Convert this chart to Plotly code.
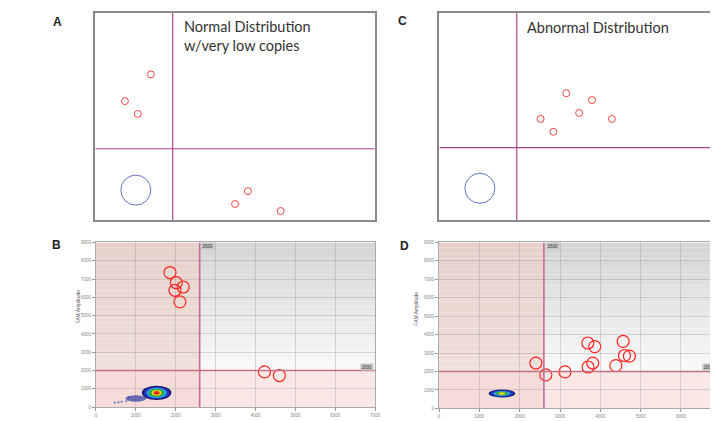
import plotly.graph_objects as go

# page body has an 8px default margin; the figure fills the rest of the 718x421 window
OFF = 8
W, H = 718 - OFF, 421 - OFF

# ---------------- data ----------------
# Schematic panels (arbitrary 0-100 units)
a_pos_x = [19.9, 10.6, 15.2, 54.6, 50.0, 66.3]
a_pos_y = [70.3, 57.4, 51.2, 13.9, 7.7, 4.3]
a_neg_x = [14.5]
a_neg_y = [14.4]
a_thr_x, a_thr_y = 27.7, 34.4
a_text = ["Normal Distribution", "w/very low copies"]

c_pos_x = [45.4, 54.6, 50.0, 36.2, 61.7, 40.8]
c_pos_y = [61.2, 57.9, 51.7, 48.8, 48.8, 42.6]
c_neg_x = [14.5]
c_neg_y = [15.3]
c_thr_x, c_thr_y = 27.7, 34.9
c_text = ["Abnormal Distribution"]

# Droplet plots (FAM amplitude vs HEX amplitude)
b_pos_x = [1856, 2013, 2187, 1980, 2104, 4225, 4598]
b_pos_y = [7356, 6799, 6565, 6385, 5755, 1924, 1727]
d_pos_x = [2402, 2648, 3123, 3689, 3861, 3811, 3697, 4385, 4566, 4598, 4721]
d_pos_y = [2460, 1818, 1979, 3547, 3351, 2460, 2246, 2317, 3636, 2870, 2834]
thr_x, thr_y = 2600, 2000
x_ticks = [0, 1000, 2000, 3000, 4000, 5000, 6000, 7000]
y_ticks = [0, 1000, 2000, 3000, 4000, 5000, 6000, 7000, 8000, 9000]

# negative droplet cluster (center, density layers: half-width, half-height)
b_cluster_center = (1520, 780)
b_cluster_hx = [370, 320, 255, 195, 125, 75]
b_cluster_hy = [390, 340, 285, 225, 160, 105]
b_tail_center = (1000, 470)
b_tail_hx, b_tail_hy = 260, 180
b_tail_dots_x = [760, 640, 560, 470, 820]
b_tail_dots_y = [330, 300, 270, 240, 520]

d_cluster_center = (1560, 810)
d_cluster_hx = [330, 285, 210, 150, 80]
d_cluster_hy = [215, 180, 140, 105, 70]

cluster_colors = ["#161b70", "#2636c8", "#2aa8d8", "#30a848", "#e6d622", "#e02a1a"]

# ---------------- figure ----------------
def px_x(p):
    return (p - OFF) / W

def px_y(p):
    return 1 - (p - OFF) / H

fig = go.Figure()
shapes = []
ann = []

RED_S = "#f04848"
BLUE_S = "#6272c2"
MAG = "#b0408e"
BORDER = "#8a8a8a"

# Panel A traces
fig.add_trace(go.Scatter(x=a_pos_x, y=a_pos_y, mode="markers", xaxis="x", yaxis="y",
                         marker=dict(symbol="circle-open", size=7, color=RED_S, line=dict(width=1)),
                         hoverinfo="skip", showlegend=False))
fig.add_trace(go.Scatter(x=a_neg_x, y=a_neg_y, mode="markers", xaxis="x", yaxis="y",
                         marker=dict(symbol="circle-open", size=30, color=BLUE_S, line=dict(width=1)),
                         hoverinfo="skip", showlegend=False))
# Panel C traces
fig.add_trace(go.Scatter(x=c_pos_x, y=c_pos_y, mode="markers", xaxis="x2", yaxis="y2",
                         marker=dict(symbol="circle-open", size=7, color=RED_S, line=dict(width=1)),
                         hoverinfo="skip", showlegend=False))
fig.add_trace(go.Scatter(x=c_neg_x, y=c_neg_y, mode="markers", xaxis="x2", yaxis="y2",
                         marker=dict(symbol="circle-open", size=30, color=BLUE_S, line=dict(width=1)),
                         hoverinfo="skip", showlegend=False))

# schematic threshold lines
for xr, yr, tx, ty in [("x", "y", a_thr_x, a_thr_y), ("x2", "y2", c_thr_x, c_thr_y)]:
    shapes.append(dict(type="line", xref=xr, yref=yr, x0=tx, x1=tx, y0=0, y1=100,
                       line=dict(color=MAG, width=1.2), layer="above"))
    shapes.append(dict(type="line", xref=xr, yref=yr, x0=0, x1=100, y0=ty, y1=ty,
                       line=dict(color=MAG, width=1.2), layer="above"))

# schematic texts
text_font = dict(family="Lato, Open Sans, sans-serif", size=14.5, color="#333333")
ann.append(dict(xref="x", yref="y", x=30.9, y=93.6, text=a_text[0], showarrow=False,
                xanchor="left", yanchor="middle", font=text_font))
ann.append(dict(xref="x", yref="y", x=30.9, y=84.5, text=a_text[1], showarrow=False,
                xanchor="left", yanchor="middle", font=text_font))
ann.append(dict(xref="x2", yref="y2", x=30.5, y=93.2, text=c_text[0], showarrow=False,
                xanchor="left", yanchor="middle", font=text_font))


def blend(c1, c2, t):
    a = [int(c1[i:i + 2], 16) for i in (1, 3, 5)]
    b = [int(c2[i:i + 2], 16) for i in (1, 3, 5)]
    return "rgb(%d,%d,%d)" % tuple(round(a[k] + (b[k] - a[k]) * t) for k in range(3))


def droplet_panel(xr, yr, px, py, center, hxs, hys, colors, label_x, tail=None):
    # background quadrants
    n = 24
    for i in range(n):
        y0 = thr_y + (9000 - thr_y) * i / n
        y1 = thr_y + (9000 - thr_y) * (i + 1) / n
        t = (i + 0.5) / n
        shapes.append(dict(type="rect", xref=xr, yref=yr, x0=thr_x, x1=7000, y0=y0, y1=y1,
                           fillcolor=blend("#f9f9f9", "#d4d4d4", t), line=dict(width=0), layer="below"))
        shapes.append(dict(type="rect", xref=xr, yref=yr, x0=0, x1=thr_x, y0=y0, y1=y1,
                           fillcolor=blend("#f0e0da", "#e6d1ca", t), line=dict(width=0), layer="below"))
    shapes.append(dict(type="rect", xref=xr, yref=yr, x0=0, x1=thr_x, y0=0, y1=thr_y,
                       fillcolor="#f6dcd9", line=dict(width=0), layer="below"))
    shapes.append(dict(type="rect", xref=xr, yref=yr, x0=thr_x, x1=7000, y0=0, y1=thr_y,
                       fillcolor="#fae8e6", line=dict(width=0), layer="below"))
    # threshold lines
    shapes.append(dict(type="line", xref=xr, yref=yr, x0=thr_x, x1=thr_x, y0=0, y1=9000,
                       line=dict(color="#c46a9e", width=1.6), layer="above"))
    shapes.append(dict(type="line", xref=xr, yref=yr, x0=0, x1=7000, y0=thr_y, y1=thr_y,
                       line=dict(color="#c0707e", width=1.6), layer="above"))
    # negative cluster
    if tail is not None:
        (tc, thx, thy, dx, dy) = tail
        fig.add_trace(go.Scatter(x=dx, y=dy, mode="markers", xaxis=xr, yaxis=yr,
                                 marker=dict(size=2.5, color="#6a74b8", opacity=0.7),
                                 hoverinfo="skip", showlegend=False))
        shapes.append(dict(type="circle", xref=xr, yref=yr, x0=tc[0] - thx, x1=tc[0] + thx,
                           y0=tc[1] - thy, y1=tc[1] + thy, fillcolor="#3a44a0",
                           line=dict(width=0), layer="above", opacity=0.75))
    for k, (hx, hy) in enumerate(zip(hxs, hys)):
        shapes.append(dict(type="circle", xref=xr, yref=yr, x0=center[0] - hx, x1=center[0] + hx,
                           y0=center[1] - hy, y1=center[1] + hy, fillcolor=colors[k],
                           line=dict(width=0), layer="above"))
    # positive droplets
    fig.add_trace(go.Scatter(x=px, y=py, mode="markers", xaxis=xr, yaxis=yr,
                             marker=dict(symbol="circle-open", size=12, color="#ff2222",
                                         line=dict(width=1.2)),
                             hoverinfo="skip", showlegend=False))
    # threshold labels
    lab_font = dict(family="Liberation Sans, Arial", size=4.5, color="#333333")
    ann.append(dict(xref=xr, yref=yr, x=thr_x + 220, y=8800, text="2600", showarrow=False,
                    font=lab_font, bgcolor="#c8c8c8", borderpad=0.5))
    ann.append(dict(xref=xr, yref=yr, x=label_x, y=2220, text="2000", showarrow=False,
                    font=lab_font, bgcolor="#c8c8c8", borderpad=0.5))


droplet_panel("x3", "y3", b_pos_x, b_pos_y, b_cluster_center, b_cluster_hx, b_cluster_hy,
              cluster_colors, 6800,
              tail=(b_tail_center, b_tail_hx, b_tail_hy, b_tail_dots_x, b_tail_dots_y))
droplet_panel("x4", "y4", d_pos_x, d_pos_y, d_cluster_center, d_cluster_hx, d_cluster_hy,
              cluster_colors, 6700)

# y-axis titles for droplet plots
ttl_font = dict(family="Liberation Sans, Arial", size=5, color="#555555")
ann.append(dict(xref="paper", yref="paper", x=px_x(73), y=px_y(327), text="FAM Amplitude",
                textangle=-90, showarrow=False, font=ttl_font))
ann.append(dict(xref="paper", yref="paper", x=px_x(419), y=px_y(330), text="FAM Amplitude",
                textangle=-90, showarrow=False, font=ttl_font))

# panel letters
let_font = dict(family="Liberation Sans, Arial", size=12, color="#222222")
for letter, lx, ly in [("A", 57, 20), ("C", 405, 19), ("B", 56, 246), ("D", 407, 247)]:
    ann.append(dict(xref="paper", yref="paper", x=px_x(lx), y=px_y(ly), text="<b>%s</b>" % letter,
                    showarrow=False, font=let_font, xanchor="center", yanchor="middle"))

schem_axis = dict(showgrid=False, zeroline=False, showticklabels=False, ticks="",
                  showline=True, linecolor=BORDER, linewidth=1.5, fixedrange=True)
tick_font = dict(family="Liberation Sans, Arial", size=4.5, color="#888888")
drop_x = dict(showgrid=True, gridcolor="rgba(150,150,150,0.35)", gridwidth=1, zeroline=False,
              tickvals=x_ticks, ticktext=[str(v) for v in x_ticks], ticks="outside", ticklen=3,
              tickcolor="#999999", tickfont=tick_font, showline=True, linecolor="#aaaaaa",
              linewidth=1, fixedrange=True)
drop_y = dict(showgrid=True, gridcolor="rgba(150,150,150,0.35)", gridwidth=1, zeroline=False,
              tickvals=y_ticks, ticktext=[str(v) for v in y_ticks], ticks="outside", ticklen=3,
              tickcolor="#999999", tickfont=tick_font, showline=True, linecolor="#aaaaaa",
              linewidth=1, range=[0, 9000], fixedrange=True)

d_xmax = (718 - 441.7) / 40.67 * 1000

fig.update_layout(
    width=W, height=H, margin=dict(l=0, r=0, t=0, b=0),
    paper_bgcolor="white", plot_bgcolor="white",
    xaxis=dict(schem_axis, domain=[px_x(95), px_x(377)], range=[0, 100], mirror=True, anchor="y"),
    yaxis=dict(schem_axis, domain=[px_y(220.5), px_y(11)], range=[0, 100], mirror=True, anchor="x"),
    xaxis2=dict(schem_axis, domain=[px_x(442), 1.0], range=[0, (718 - 442) / 282 * 100],
                mirror=True, anchor="y2"),
    yaxis2=dict(schem_axis, domain=[px_y(220.5), px_y(11)], range=[0, 100], mirror=False,
                anchor="x2"),
    xaxis3=dict(drop_x, domain=[px_x(95.7), px_x(377.3)], range=[0, 7000], mirror=True, anchor="y3"),
    yaxis3=dict(drop_y, domain=[px_y(410), px_y(243.3)], mirror=True, anchor="x3"),
    xaxis4=dict(drop_x, domain=[px_x(441.7), 1.0], range=[0, d_xmax], mirror=True, anchor="y4"),
    yaxis4=dict(drop_y, domain=[px_y(411.3), px_y(243.3)], mirror=False, anchor="x4"),
    shapes=shapes, annotations=ann, showlegend=False,
)

fig.write_html("out.html")
